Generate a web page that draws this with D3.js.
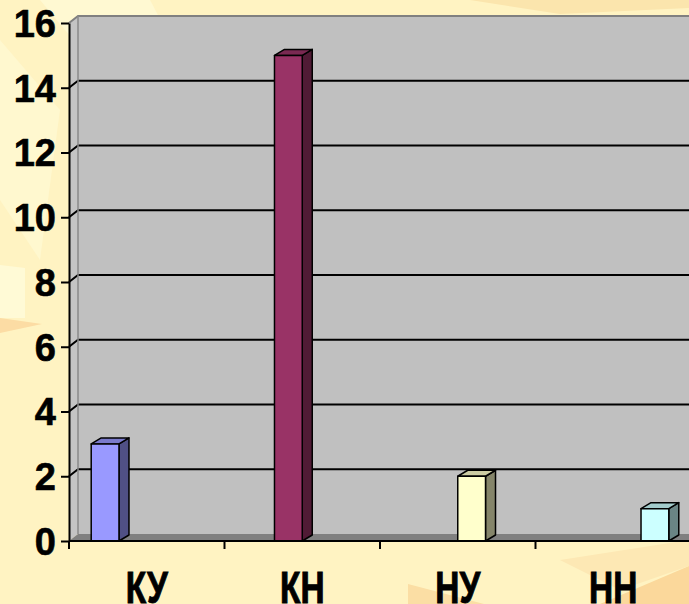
<!DOCTYPE html>
<html>
<head>
<meta charset="utf-8">
<script src="https://cdn.jsdelivr.net/npm/d3@7"></script>
<style>
  html, body { margin: 0; padding: 0; background: #fff3c2; }
  svg { display: block; }
</style>
</head>
<body>
<svg id="chart"></svg>
<script>
// chart data
var categories = ["КУ", "КН", "НУ", "НН"];
var values = [3, 15, 2, 1];
var colors = ["#9999ff", "#993366", "#ffffcc", "#ccffff"];
var yTicks = [0, 2, 4, 6, 8, 10, 12, 14, 16];

var width = 689, height = 604;
var svg = d3.select("#chart").attr("width", width).attr("height", height);

// background texture, soft shapes
var bg = svg.append("g");
bg.append("rect").attr("width", width).attr("height", height).attr("fill", "#fff3c2");
var blobs = [
    {pts: [[40, 0], [150, 0], [230, 150], [90, 60]], fill: "#fff9d2"},
    {pts: [[0, 40], [60, 110], [40, 260], [0, 200]], fill: "#fff8cf"},
    {pts: [[470, 0], [689, 0], [689, 8], [560, 14]], fill: "#fbe5ad"},
    {pts: [[0, 318], [42, 324], [0, 333]], fill: "#fcdca4"},
    {pts: [[0, 265], [25, 268], [25, 318], [0, 318]], fill: "#fffad6"},
    {pts: [[408, 584], [484, 604], [408, 604]], fill: "#fbdea4"},
    {pts: [[600, 604], [689, 566], [689, 604]], fill: "#fbd89b"},
    {pts: [[560, 560], [689, 540], [689, 566], [620, 590]], fill: "#fde8b4"}
];
bg.selectAll("polygon").data(blobs).enter().append("polygon")
    .attr("points", function (d) { return d.pts.join(" "); })
    .attr("fill", function (d) { return d.fill; });

// scales
var x = d3.scaleBand().domain(categories).range([69, 691]);
var inner = d3.scaleBand().domain(d3.range(categories.length))
    .range([0, x.bandwidth()]).paddingOuter(0.8);
var y = d3.scaleLinear().domain([0, 16]).range([541, 23]);

var wdx = 9, wdy = -7;   // wall depth
var bdx = 10, bdy = -6;  // bar depth
var x0 = x.range()[0], xEnd = width + 10;

// back wall
svg.append("rect")
    .attr("x", x0 + wdx).attr("y", y(16) + wdy)
    .attr("width", xEnd - x0 - wdx).attr("height", y(0) - y(16))
    .attr("fill", "#c0c0c0");

// left wall
svg.append("polygon")
    .attr("points", [[x0, y(16)], [x0 + wdx, y(16) + wdy], [x0 + wdx, y(0) + wdy], [x0, y(0)]].join(" "))
    .attr("fill", "#c4c4c4");

// floor
svg.append("polygon")
    .attr("points", [[x0, y(0)], [x0 + wdx, y(0) + wdy], [xEnd, y(0) + wdy], [xEnd, y(0)]].join(" "))
    .attr("fill", "#808080");

// grid lines (back wall and left wall)
var grid = yTicks.filter(function (t) { return t > 0 && t < 16; });
svg.selectAll(".grid").data(grid).enter().append("polyline")
    .attr("class", "grid")
    .attr("points", function (d) {
        return [[x0, y(d)], [x0 + wdx, y(d) + wdy], [xEnd, y(d) + wdy]].join(" ");
    })
    .attr("fill", "none").attr("stroke", "#000").attr("stroke-width", 2);

// wall edges
svg.append("polyline")
    .attr("points", [[x0, y(16)], [x0 + wdx, y(16) + wdy], [xEnd, y(16) + wdy]].join(" "))
    .attr("fill", "none").attr("stroke", "#808080").attr("stroke-width", 2);
svg.append("line")
    .attr("x1", x0 + wdx).attr("x2", x0 + wdx)
    .attr("y1", y(16) + wdy).attr("y2", y(0) + wdy)
    .attr("stroke", "#8a8a8a").attr("stroke-width", 1.5);

// bars
function shade(c, k) {
    var r = d3.rgb(c);
    return d3.rgb(r.r * k, r.g * k, r.b * k).toString();
}
var bars = svg.selectAll(".bar").data(values).enter().append("g").attr("class", "bar");
bars.each(function (v, i) {
    var g = d3.select(this);
    var xa = x(categories[i]) + inner(i), xb = xa + inner.bandwidth();
    var yt = y(v), yb = y(0);
    g.append("polygon")
        .attr("points", [[xb, yt], [xb + bdx, yt + bdy], [xb + bdx, yb + bdy], [xb, yb]].join(" "))
        .attr("fill", shade(colors[i], 0.52));
    g.append("polygon")
        .attr("points", [[xa, yt], [xa + bdx, yt + bdy], [xb + bdx, yt + bdy], [xb, yt]].join(" "))
        .attr("fill", shade(colors[i], 0.8));
    g.append("rect")
        .attr("x", xa).attr("y", yt)
        .attr("width", xb - xa).attr("height", yb - yt)
        .attr("fill", colors[i]);
    g.selectAll("*").attr("stroke", "#000").attr("stroke-width", 1.5).attr("stroke-linejoin", "round");
});

// y axis
var yAxis = svg.append("g")
    .attr("transform", "translate(" + x0 + ",0)")
    .call(d3.axisLeft(y).tickValues(yTicks).tickFormat(d3.format("d"))
        .tickSize(8).tickSizeOuter(0).tickPadding(5));
yAxis.select(".domain").attr("stroke", "#000").attr("stroke-width", 2);
yAxis.selectAll(".tick line").attr("stroke", "#000").attr("stroke-width", 2);
yAxis.selectAll(".tick text")
    .attr("fill", "#000")
    .attr("stroke", "#000").attr("stroke-width", 0.6)
    .style("font-family", "'Liberation Sans', Arial, sans-serif")
    .style("font-weight", "bold")
    .style("font-size", "38px")
    .attr("dy", "0.35em");

// x axis line and boundary ticks
svg.append("line")
    .attr("x1", x0).attr("x2", xEnd).attr("y1", y(0)).attr("y2", y(0))
    .attr("stroke", "#000").attr("stroke-width", 2);
var bounds = categories.map(function (c) { return x(c); });
svg.selectAll(".xtick").data(bounds).enter().append("line")
    .attr("class", "xtick")
    .attr("x1", function (d) { return d; }).attr("x2", function (d) { return d; })
    .attr("y1", y(0)).attr("y2", y(0) + 8)
    .attr("stroke", "#000").attr("stroke-width", 2);

// category labels
svg.selectAll(".xlabel").data(categories).enter().append("text")
    .attr("class", "xlabel")
    .attr("transform", function (d) {
        return "translate(" + (x(d) + x.bandwidth() / 2) + ",603) scale(0.76,1)";
    })
    .attr("text-anchor", "middle")
    .style("font-family", "'Liberation Sans', Arial, sans-serif")
    .style("font-weight", "bold")
    .style("font-size", "44px")
    .attr("fill", "#000")
    .attr("stroke", "#000").attr("stroke-width", 1)
    .text(function (d) { return d; });
</script>
</body>
</html>
